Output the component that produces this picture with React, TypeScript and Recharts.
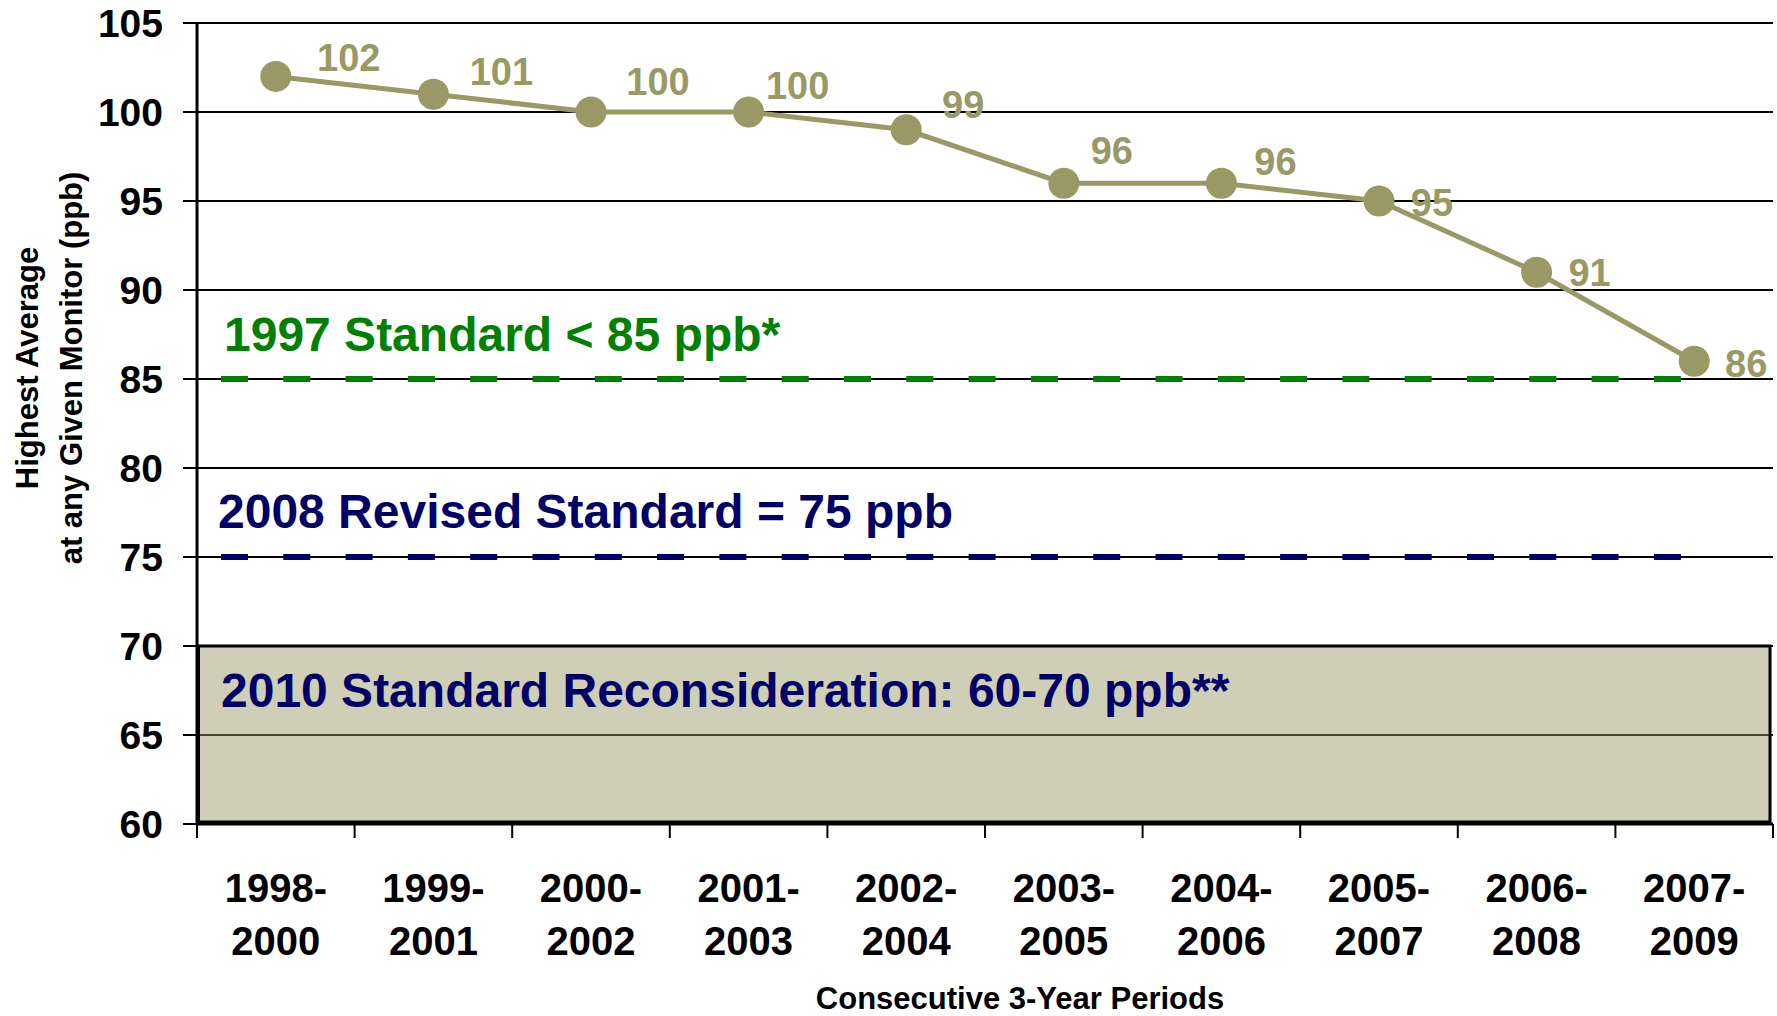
import React from 'react';
import {
  LineChart,
  Line,
  XAxis,
  YAxis,
  CartesianGrid,
  ReferenceLine,
  ReferenceArea,
  LabelList,
} from 'recharts';

// Periodos de 3 años y valor más alto en cualquier monitor (ppb)
const categories = [
  '1998-2000',
  '1999-2001',
  '2000-2002',
  '2001-2003',
  '2002-2004',
  '2003-2005',
  '2004-2006',
  '2005-2007',
  '2006-2008',
  '2007-2009',
];
const highestAverage = [102, 101, 100, 100, 99, 96, 96, 95, 91, 86];
const yTicks = [60, 65, 70, 75, 80, 85, 90, 95, 100, 105];

const standard1997 = 85;
const standard2008 = 75;
const reconsiderationRange = [60, 70];

// posición manual de las etiquetas (dx, dy desde el punto)
const labelNudge: Array<[number, number]> = [
  [73, -19],
  [68, -23],
  [67, -31],
  [49, -27],
  [57, -25],
  [48, -33],
  [54, -22],
  [53, 1],
  [53, 0],
  [52, 2],
];

const FONT = '"Liberation Sans", Arial, Helvetica, sans-serif';
const OLIVE = '#999966';
const GREEN = '#008000';
const NAVY = '#000066';

// media banda de cada categoría (1576 / 10 / 2)
const HALF_BAND = 78.8;

const chartData = categories.map((period, i) => ({
  period,
  value: highestAverage[i],
}));

function PeriodTick({ x, y, payload, index }: any) {
  const [start, end] = String(payload.value).split('-');
  const isLast = index === categories.length - 1;
  return (
    <g transform={`translate(${x},${y})`}>
      <line x1={-HALF_BAND} y1={0} x2={-HALF_BAND} y2={14} stroke="#000" strokeWidth={2} />
      {isLast && (
        <line x1={HALF_BAND} y1={0} x2={HALF_BAND} y2={14} stroke="#000" strokeWidth={2} />
      )}
      <text textAnchor="middle" fontSize={40} fontWeight="bold" fill="#000" fontFamily={FONT}>
        <tspan x={0} y={78}>{start}-</tspan>
        <tspan x={0} y={131}>{end}</tspan>
      </text>
    </g>
  );
}

function ValueLabel(props: any) {
  const px = props.x ?? props.viewBox?.x;
  const py = props.y ?? props.viewBox?.y;
  const [dx, dy] = labelNudge[props.index] || [50, -20];
  return (
    <text
      x={px + dx}
      y={py + dy}
      dy="0.36em"
      textAnchor="middle"
      fontSize={38}
      fontWeight="bold"
      fill={OLIVE}
      fontFamily={FONT}
    >
      {props.value}
    </text>
  );
}

function annotation(text: string, color: string, dx: number, dy: number) {
  return (props: any) => {
    const vb = props.viewBox || {};
    return (
      <text
        x={vb.x + dx}
        y={vb.y + dy}
        fontSize={48}
        fontWeight="bold"
        fill={color}
        fontFamily={FONT}
      >
        {text}
      </text>
    );
  };
}

// línea discontinua que empieza un poco después del eje y acaba en el último punto
function dashedShape(props: any) {
  const { x1, y1, x2, y2, stroke, strokeWidth, strokeDasharray } = props;
  return (
    <line
      x1={Math.min(x1, x2) + 24}
      y1={y1}
      x2={Math.max(x1, x2) - 79}
      y2={y2}
      stroke={stroke}
      strokeWidth={strokeWidth}
      strokeDasharray={strokeDasharray}
    />
  );
}

// la banda sombreada ocupa todo el ancho del área de trazado
function fullWidthArea(props: any) {
  const { x, y, width, height, fill, fillOpacity, stroke, strokeWidth } = props;
  return (
    <rect
      x={x - HALF_BAND + 1.5}
      y={y}
      width={width + 2 * HALF_BAND - 4.5}
      height={height - 2}
      fill={fill}
      fillOpacity={fillOpacity}
      stroke={stroke}
      strokeWidth={strokeWidth}
    />
  );
}

function YTitle(props: any) {
  const vb = props.viewBox || { x: 0, y: 0 };
  const cy = vb.y + 345;
  return (
    <g>
      <text
        x={vb.x + 38}
        y={cy}
        transform={`rotate(-90, ${vb.x + 38}, ${cy})`}
        textAnchor="middle"
        fontSize={31}
        fontWeight="bold"
        fill="#000"
        fontFamily={FONT}
      >
        Highest Average
      </text>
      <text
        x={vb.x + 82}
        y={cy}
        transform={`rotate(-90, ${vb.x + 82}, ${cy})`}
        textAnchor="middle"
        fontSize={31}
        fontWeight="bold"
        fill="#000"
        fontFamily={FONT}
      >
        at any Given Monitor (ppb)
      </text>
    </g>
  );
}

function XTitle(props: any) {
  const vb = props.viewBox || { x: 0, y: 0, width: 0 };
  return (
    <text
      x={vb.x + vb.width / 2 + 35}
      y={vb.y + 185}
      textAnchor="middle"
      fontSize={31}
      fontWeight="bold"
      fill="#000"
      fontFamily={FONT}
    >
      Consecutive 3-Year Periods
    </text>
  );
}

export default function App() {
  return (
    <div style={{ position: 'absolute', left: 0, top: 0, width: 1777, height: 1016, background: '#fff' }}>
      <LineChart
        width={1777}
        height={1016}
        data={chartData}
        margin={{ top: 23, right: 4, bottom: 0, left: 0 }}
      >
        <CartesianGrid vertical={false} stroke="#000" strokeWidth={2} />
        <XAxis
          dataKey="period"
          height={192}
          padding={{ left: HALF_BAND, right: HALF_BAND }}
          tickLine={false}
          tickSize={0}
          tickMargin={0}
          interval={0}
          axisLine={{ stroke: '#000', strokeWidth: 3 }}
          tick={<PeriodTick />}
          label={<XTitle />}
        />
        <YAxis
          width={197}
          domain={[60, 105]}
          ticks={yTicks}
          interval={0}
          tickSize={14}
          tickMargin={20}
          axisLine={{ stroke: '#000', strokeWidth: 3 }}
          tickLine={{ stroke: '#000', strokeWidth: 2 }}
          tick={{ fontSize: 39, fontWeight: 'bold', fill: '#000', fontFamily: FONT }}
          label={<YTitle />}
        />
        <YAxis
          yAxisId="right"
          orientation="right"
          width={0}
          domain={[60, 105]}
          tick={false}
          tickLine={false}
          axisLine={{ stroke: '#000', strokeWidth: 2 }}
        />

        <ReferenceArea
          y1={reconsiderationRange[0]}
          y2={reconsiderationRange[1]}
          fill={OLIVE}
          fillOpacity={0.47}
          stroke="#000"
          strokeWidth={3}
          shape={fullWidthArea}
          label={annotation('2010 Standard Reconsideration: 60-70 ppb**', NAVY, 24 - HALF_BAND, 61)}
        />

        <ReferenceLine
          y={standard1997}
          stroke={GREEN}
          strokeWidth={6}
          strokeDasharray="27 35.3"
          shape={dashedShape}
          label={annotation('1997 Standard < 85 ppb*', GREEN, 27, -28)}
        />
        <ReferenceLine
          y={standard2008}
          stroke={NAVY}
          strokeWidth={6}
          strokeDasharray="27 35.3"
          shape={dashedShape}
          label={annotation('2008 Revised Standard = 75 ppb', NAVY, 21, -29)}
        />

        <Line
          type="linear"
          dataKey="value"
          stroke={OLIVE}
          strokeWidth={5}
          dot={{ r: 15.5, fill: OLIVE, stroke: 'none' }}
          activeDot={false}
          isAnimationActive={false}
        >
          <LabelList dataKey="value" content={<ValueLabel />} />
        </Line>
      </LineChart>
    </div>
  );
}
